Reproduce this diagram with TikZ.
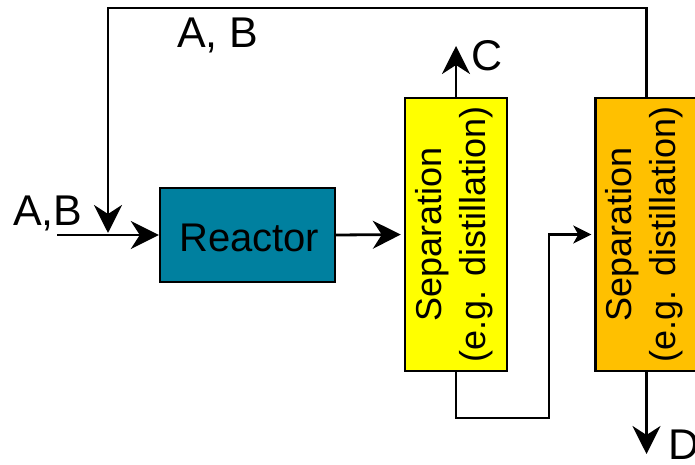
\documentclass[tikz,border=0pt]{standalone}
\usepackage{fontspec}
\setmainfont{Liberation Sans}
\usetikzlibrary{arrows.meta}
\definecolor{reactc}{HTML}{00809F}
\definecolor{sepA}{HTML}{FFFF00}
\definecolor{sepB}{HTML}{FFC000}
\tikzset{
  flow/.style={line width=2.8pt, -{Stealth[length=28pt,width=28pt,inset=9pt]}},
  flowsmall/.style={line width=2.8pt, -{Stealth[length=18pt,width=18pt,inset=5pt]}},
  unit/.style={draw=black, line width=2.4pt, inner sep=0pt},
  lbl/.style={inner sep=0pt, anchor=base west, font=\fontsize{43}{50}\selectfont},
  septext/.style={rotate=90, align=center, inner sep=0pt, font=\fontsize{36}{44}\selectfont}
}
\begin{document}
\begin{tikzpicture}[x=1pt,y=-1pt]
\useasboundingbox (0,0) rectangle (695,465);
\clip (0,0) rectangle (695,465);
% units
\node[unit, fill=reactc, minimum width=175pt, minimum height=94pt] (reactor) at (247.5,235) {};
\node[inner sep=0pt, anchor=base west, font=\fontsize{40}{48}\selectfont] (reactorlbl) at (179,251) {Reactor};
\node[unit, fill=sepA, minimum width=102pt, minimum height=273pt] (sep1) at (456,234.5) {};
\node[septext] (sep1lbl) at (454,234.5) {Separation\\(e.g. distillation)};
\node[unit, fill=sepB, minimum width=102pt, minimum height=273pt] (sep2) at (646.5,234.5) {};
\node[septext] (sep2lbl) at (644.5,234.5) {Separation\\(e.g. distillation)};
% free ends
\coordinate (feed) at (57,235);
\coordinate (mix) at (108,235);
\coordinate (recl) at (108,8);
\coordinate (cend) at (456,46);
\coordinate (bot) at (549,418);
\coordinate (dend) at (646.5,454);
% connectors
\draw[flow] (feed) -- (reactor.west);
\draw[flow, shorten >=2pt] (sep2.north) |- (recl) -- (mix);
\draw[flow, shorten >=3pt] (reactor.east) -- (sep1.west);
\draw[flow] (sep1.north) -- (cend);
\draw[flowsmall, shorten >=3pt] (sep1.south) |- (bot) |- (sep2.west);
\draw[flow] (sep2.south) -- (dend);
% labels
\node[lbl] (ab1) at (177,48) {A, B};
\node[lbl] (ab2) at (13,225) {A,B};
\node[lbl] (c) at (471,71) {C};
\node[lbl] (d) at (668,459) {D};
\end{tikzpicture}
\end{document}
